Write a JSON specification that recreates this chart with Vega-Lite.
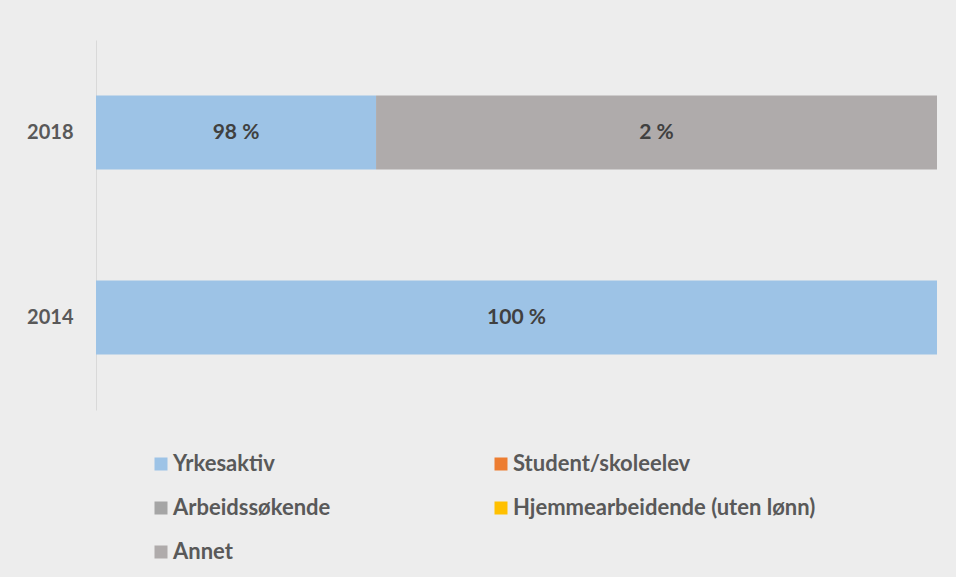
{
  "$schema": "https://vega.github.io/schema/vega-lite/v6.json",
  "width": 841,
  "height": 370,
  "autosize": "none",
  "padding": {"left": 96, "top": 40, "right": 19, "bottom": 167},
  "background": "#EDEDED",
  "config": {
    "view": {"stroke": null},
    "font": "Lato"
  },
  "data": {
    "values": [
      {"year": "2018", "category": "Yrkesaktiv", "order": 1, "value": 33.3, "label": "98 %"},
      {"year": "2018", "category": "Annet", "order": 5, "value": 66.7, "label": "2 %"},
      {"year": "2014", "category": "Yrkesaktiv", "order": 1, "value": 100, "label": "100 %"}
    ]
  },
  "transform": [
    {"stack": "value", "groupby": ["year"], "sort": [{"field": "order"}], "as": ["x0", "x1"]}
  ],
  "encoding": {
    "y": {
      "field": "year",
      "type": "nominal",
      "sort": "descending",
      "scale": {"paddingInner": 0.6, "paddingOuter": 0.3},
      "axis": {
        "title": null,
        "ticks": false,
        "domainColor": "#D9D9D9",
        "domainWidth": 1,
        "labelFont": "Lato",
        "labelFontWeight": "bold",
        "labelFontSize": 20,
        "labelColor": "#595959",
        "labelPadding": 23
      }
    }
  },
  "layer": [
    {
      "mark": {"type": "bar"},
      "encoding": {
        "x": {"field": "x0", "type": "quantitative", "scale": {"domain": [0, 100], "nice": false}, "axis": null},
        "x2": {"field": "x1"},
        "color": {
          "field": "category",
          "type": "nominal",
          "scale": {
            "domain": ["Yrkesaktiv", "Arbeidssøkende", "Annet", "Student/skoleelev", "Hjemmearbeidende (uten lønn)"],
            "range": ["#9DC3E6", "#A5A5A5", "#AFABAB", "#ED7D31", "#FFC000"]
          },
          "legend": {
            "title": null,
            "orient": "none",
            "legendX": 54,
            "legendY": 413,
            "padding": 0,
            "columns": 2,
            "columnPadding": 159,
            "rowPadding": 22,
            "symbolType": "square",
            "symbolSize": 169,
            "symbolStrokeWidth": 0,
            "labelOffset": 1,
            "labelFont": "Lato",
            "labelFontWeight": "bold",
            "labelFontSize": 22,
            "labelColor": "#595959",
            "labelLimit": 400
          }
        }
      }
    },
    {
      "transform": [
        {"fold": ["x0", "x1"], "as": ["edge", "pos"]}
      ],
      "mark": {"type": "text", "font": "Lato", "fontWeight": "bold", "fontSize": 21, "color": "#404040", "baseline": "middle", "align": "center"},
      "encoding": {
        "x": {"field": "pos", "type": "quantitative", "aggregate": "mean"},
        "text": {"field": "label", "type": "nominal"}
      }
    }
  ]
}
